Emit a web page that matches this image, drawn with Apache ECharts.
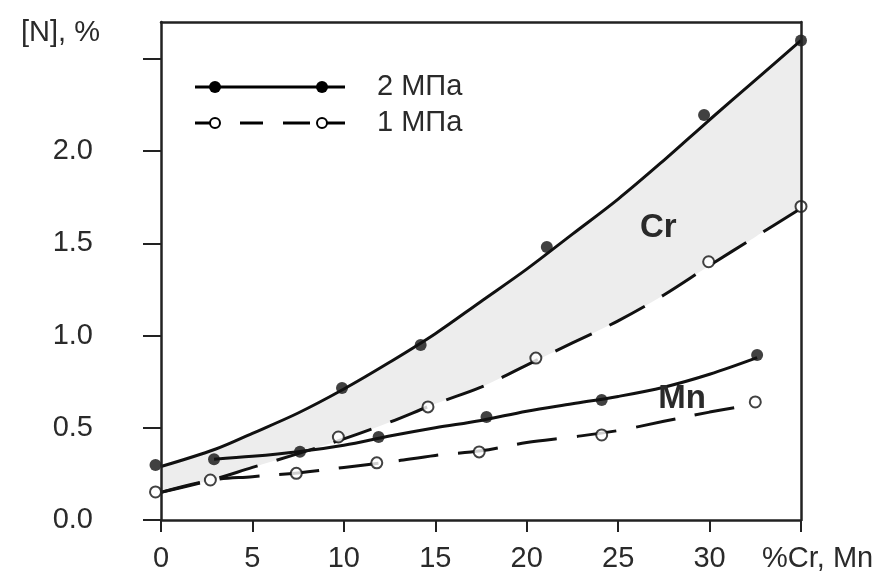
<!DOCTYPE html>
<html><head><meta charset="utf-8">
<script src="https://cdn.jsdelivr.net/npm/echarts@6/dist/echarts.min.js"></script>
<style>html,body{margin:0;padding:0;background:#fff}#c{width:888px;height:574px}</style>
</head><body><div id="c"></div>
<script>
// ---- data ----
const xTickLabels = ['0','5','10','15','20','25','30'];
const yTickLabels = ['0.0','0.5','1.0','1.5','2.0'];
const seriesNames = ['2 МПа', '1 МПа'];
// fitted curves
const cr2CurveX = [0, 3, 5, 7.5, 10, 12.5, 15, 17.5, 20, 22.5, 25, 27.5, 30, 32.5, 35];
const cr2CurveY = [0.29, 0.385, 0.47, 0.58, 0.71, 0.855, 1.01, 1.185, 1.36, 1.55, 1.74, 1.95, 2.17, 2.385, 2.60];
const cr1CurveX = [0, 2.7, 5, 7.5, 10, 12.5, 15, 17.5, 20, 22.5, 25, 27.5, 30, 32.5, 35];
const cr1CurveY = [0.15, 0.215, 0.285, 0.36, 0.44, 0.53, 0.63, 0.72, 0.84, 0.96, 1.08, 1.22, 1.38, 1.535, 1.69];
const mn2CurveX = [2.9, 5, 7.5, 10, 12.5, 15, 17.5, 20, 22.5, 25, 27.5, 30, 32.6];
const mn2CurveY = [0.33, 0.345, 0.37, 0.405, 0.455, 0.50, 0.54, 0.59, 0.63, 0.67, 0.72, 0.79, 0.88];
const mn1CurveX = [0, 2.7, 5, 7.5, 10, 12.5, 15, 17.5, 20, 22.5, 25, 27.5, 30, 32];
const mn1CurveY = [0.15, 0.215, 0.235, 0.255, 0.285, 0.315, 0.35, 0.375, 0.42, 0.45, 0.485, 0.535, 0.585, 0.62];
// measured points
const cr2PtsX = [-0.3, 9.9, 14.2, 21.1, 29.7, 35];
const cr2PtsY = [0.298, 0.716, 0.949, 1.48, 2.196, 2.60];
const cr1PtsX = [-0.3, 2.7, 9.7, 14.6, 20.5, 29.95, 35];
const cr1PtsY = [0.152, 0.217, 0.45, 0.613, 0.878, 1.40, 1.70];
const mn2PtsX = [2.9, 7.6, 11.9, 17.8, 24.1, 32.6];
const mn2PtsY = [0.33, 0.37, 0.45, 0.558, 0.65, 0.895];
const mn1PtsX = [7.4, 11.8, 17.4, 24.1, 32.5];
const mn1PtsY = [0.253, 0.31, 0.369, 0.461, 0.64];
// annotations
const labelCr = [27.2, 1.583];
const labelMn = [28.5, 0.656];

// ---- helpers ----
const zip = (a, b) => a.map((v, i) => [v, b[i]]);
const FONT = 'Liberation Sans';
const TXT = '#2a2a2a';

const svgSolid = "<svg xmlns='http://www.w3.org/2000/svg' width='150' height='16'><line x1='0' y1='8' x2='150' y2='8' stroke='black' stroke-width='3'/><circle cx='20' cy='8' r='6' fill='black'/><circle cx='127' cy='8' r='6' fill='black'/></svg>";
const svgDash = "<svg xmlns='http://www.w3.org/2000/svg' width='150' height='16'><g stroke='black' stroke-width='3'><line x1='0' y1='8' x2='25' y2='8'/><line x1='45' y1='8' x2='68' y2='8'/><line x1='88' y1='8' x2='115' y2='8'/><line x1='122' y1='8' x2='150' y2='8'/></g><circle cx='20' cy='8' r='5' fill='white' stroke='black' stroke-width='2'/><circle cx='127' cy='8' r='5' fill='white' stroke='black' stroke-width='2'/></svg>";
const img = s => 'image://data:image/svg+xml;charset=utf-8,' + encodeURIComponent(s);

const lineBase = (name, xs, ys, dashed) => ({
  name: name, type: 'line', data: zip(xs, ys), smooth: 0.35, symbol: 'none', z: 3, silent: true,
  lineStyle: { color: '#111', width: 3, type: dashed ? [40, 20] : 'solid' }
});
const ptsBase = (name, xs, ys, open) => ({
  name: name, type: 'scatter', data: zip(xs, ys), clip: false, z: 4, silent: true,
  symbol: 'circle', symbolSize: open ? 11 : 12,
  itemStyle: open ? { color: '#fff', borderColor: '#111', borderWidth: 2 } : { color: '#111' }
});

const chart = echarts.init(document.getElementById('c'), null, { renderer: 'canvas' });
const option = {
  animation: false,
  backgroundColor: '#fff',
  textStyle: { fontFamily: FONT },
  grid: { left: 161, right: 87, top: 22, bottom: 54 },
  legend: {
    orient: 'vertical', left: 190, top: 67, itemWidth: 150, itemHeight: 16, itemGap: 6,
    selectedMode: false,
    textStyle: { fontFamily: FONT, fontSize: 29, color: TXT, padding: [0, 0, 0, 27], lineHeight: 30 },
    data: [{ name: seriesNames[0], icon: img(svgSolid) }, { name: seriesNames[1], icon: img(svgDash) }]
  },
  xAxis: [{
    type: 'value', min: 0, max: 35, interval: 5, z: 5,
    axisLine: { onZero: false, lineStyle: { color: '#222', width: 2.5 } },
    axisTick: { length: 12, lineStyle: { color: '#222', width: 2 } },
    splitLine: { show: false },
    axisLabel: { margin: 24, fontSize: 29, color: TXT, fontFamily: FONT,
      formatter: v => { const i = Math.round(v / 5); return (i < xTickLabels.length && Math.abs(v - i * 5) < 1e-9) ? xTickLabels[i] : ''; } },
    name: '%Cr, Mn', nameLocation: 'end', nameGap: -39,
    nameTextStyle: { fontSize: 29, color: TXT, fontFamily: FONT, align: 'left', verticalAlign: 'top', padding: [24, 0, 0, 0] }
  }, {
    type: 'value', position: 'top', min: 0, max: 35, z: 5,
    axisLine: { onZero: false, lineStyle: { color: '#222', width: 2.5 } },
    axisTick: { show: false }, axisLabel: { show: false }, splitLine: { show: false }
  }],
  yAxis: [{
    type: 'value', min: 0, max: 2.7, interval: 0.5, z: 5,
    axisLine: { onZero: false, lineStyle: { color: '#222', width: 2.5 } },
    axisTick: { length: 18, lineStyle: { color: '#222', width: 2 }, customValues: [0, 0.5, 1, 1.5, 2, 2.5] },
    splitLine: { show: false },
    axisLabel: { margin: 68, fontSize: 29, color: TXT, fontFamily: FONT, customValues: [0, 0.5, 1, 1.5, 2],
      formatter: v => { const i = Math.round(v / 0.5); return (i < yTickLabels.length && Math.abs(v - i * 0.5) < 1e-9) ? yTickLabels[i] : ''; } },
    name: '[N], %', nameLocation: 'end', nameGap: -11,
    nameTextStyle: { fontSize: 29, color: TXT, fontFamily: FONT, align: 'right', verticalAlign: 'middle', padding: [0, 61, 0, 0] }
  }, {
    type: 'value', position: 'right', min: 0, max: 2.7, z: 5,
    axisLine: { onZero: false, lineStyle: { color: '#222', width: 2.5 } },
    axisTick: { show: false }, axisLabel: { show: false }, splitLine: { show: false }
  }],
  series: [
    { type: 'line', data: zip(cr2CurveX, cr2CurveY), smooth: 0.35, symbol: 'none', z: 1, silent: true,
      lineStyle: { width: 0 }, areaStyle: { color: '#ededed', opacity: 1 } },
    { type: 'line', data: zip(cr1CurveX, cr1CurveY), smooth: 0.35, symbol: 'none', z: 1, silent: true,
      lineStyle: { width: 0 }, areaStyle: { color: '#ffffff', opacity: 1 } },
    Object.assign(lineBase(seriesNames[0], cr2CurveX, cr2CurveY, false), {
      markPoint: { symbol: 'rect', symbolSize: 1, itemStyle: { color: 'rgba(0,0,0,0)' }, silent: true,
        label: { show: true, position: 'inside', fontSize: 33, fontWeight: 'bold', color: TXT, fontFamily: FONT },
        data: [{ coord: labelCr, value: 'Cr', label: { formatter: 'Cr' } }, { coord: labelMn, value: 'Mn', label: { formatter: 'Mn' } }] }
    }),
    lineBase(seriesNames[1], cr1CurveX, cr1CurveY, true),
    lineBase(seriesNames[0], mn2CurveX, mn2CurveY, false),
    lineBase(seriesNames[1], mn1CurveX, mn1CurveY, true),
    ptsBase(seriesNames[0], cr2PtsX, cr2PtsY, false),
    ptsBase(seriesNames[1], cr1PtsX, cr1PtsY, true),
    ptsBase(seriesNames[0], mn2PtsX, mn2PtsY, false),
    ptsBase(seriesNames[1], mn1PtsX, mn1PtsY, true)
  ]
};
chart.setOption(option);
</script></body></html>
